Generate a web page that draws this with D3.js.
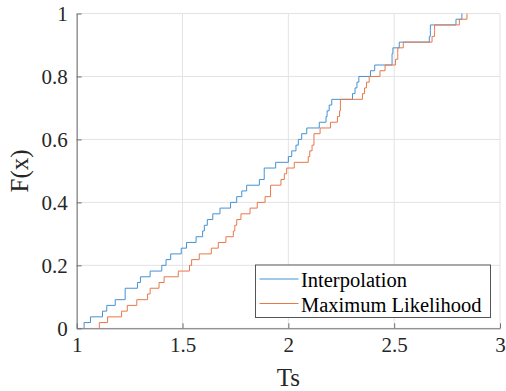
<!DOCTYPE html>
<html>
<head>
<meta charset="utf-8">
<script src="https://cdn.jsdelivr.net/npm/d3@7"></script>
<style>
  body { margin: 0; background: #fff; }
  svg { display: block; }
</style>
</head>
<body>
<div id="chart"></div>
<script>
// tick values
var xTicks = [1, 1.5, 2, 2.5, 3];
var yTicks = [0, 0.2, 0.4, 0.6, 0.8, 1];

// series names
var seriesNames = ["Interpolation", "Maximum Likelihood"];

// samples (repeated values = double steps)
var interpSamples = [1.035, 1.065, 1.122, 1.142, 1.182, 1.229, 1.229, 1.287, 1.301, 1.347,
  1.402, 1.422, 1.444, 1.494, 1.519, 1.564, 1.595, 1.603, 1.617, 1.643,
  1.677, 1.727, 1.756, 1.780, 1.803, 1.863, 1.886, 1.886, 1.940, 2.000,
  2.016, 2.036, 2.047, 2.063, 2.087, 2.146, 2.178, 2.183, 2.193, 2.205,
  2.303, 2.315, 2.324, 2.333, 2.388, 2.408, 2.490, 2.490, 2.494, 2.524,
  2.666, 2.671, 2.671, 2.792, 2.820];

var mleSamples = [1.107, 1.146, 1.212, 1.239, 1.284, 1.335, 1.347, 1.389, 1.413, 1.480,
  1.533, 1.543, 1.579, 1.636, 1.669, 1.705, 1.740, 1.747, 1.756, 1.776,
  1.819, 1.853, 1.890, 1.916, 1.916, 1.965, 1.981, 1.992, 2.028, 2.094,
  2.101, 2.112, 2.121, 2.121, 2.150, 2.199, 2.232, 2.242, 2.246, 2.246,
  2.350, 2.360, 2.369, 2.382, 2.433, 2.457, 2.506, 2.517, 2.517, 2.543,
  2.679, 2.691, 2.691, 2.808, 2.844];

var colors = ["#4592d3", "#e8784a"];
var font = "'Liberation Serif', 'Times New Roman', serif";

var width = 506, height = 391;
var margin = {top: 13.5, right: 6, bottom: 62.7, left: 76.7};
var w = width - margin.left - margin.right,
    h = height - margin.top - margin.bottom;

var svg = d3.select("#chart").append("svg")
    .attr("width", width)
    .attr("height", height);

var g = svg.append("g")
    .attr("transform", "translate(" + margin.left + "," + margin.top + ")");

var x = d3.scaleLinear().domain([1, 3]).range([0, w]);
var y = d3.scaleLinear().domain([0, 1]).range([h, 0]);

// grid
g.selectAll(".vgrid").data(xTicks).enter().append("line")
    .attr("x1", function(d) { return x(d); })
    .attr("x2", function(d) { return x(d); })
    .attr("y1", 0).attr("y2", h)
    .attr("stroke", "#e3e3e3").attr("stroke-width", 1);
g.selectAll(".hgrid").data(yTicks).enter().append("line")
    .attr("x1", 0).attr("x2", w)
    .attr("y1", function(d) { return y(d); })
    .attr("y2", function(d) { return y(d); })
    .attr("stroke", "#e3e3e3").attr("stroke-width", 1);

// ecdf staircase
function ecdf(samples) {
  var s = samples.slice().sort(d3.ascending);
  var n = s.length;
  var pts = [[s[0], 0]];
  s.forEach(function(v, i) { pts.push([v, (i + 1) / n]); });
  return pts;
}

var line = d3.line()
    .x(function(d) { return x(d[0]); })
    .y(function(d) { return y(d[1]); })
    .curve(d3.curveStepAfter);

[interpSamples, mleSamples].forEach(function(s, i) {
  g.append("path")
    .attr("d", line(ecdf(s)))
    .attr("fill", "none")
    .attr("stroke", colors[i])
    .attr("stroke-width", 1);
});

// axes (ticks point inward)
var xAxis = d3.axisBottom(x).tickValues(xTicks).tickSizeInner(-5).tickSizeOuter(0).tickPadding(9)
    .tickFormat(d3.format(""));
var yAxis = d3.axisLeft(y).tickValues(yTicks).tickSizeInner(-5).tickSizeOuter(0).tickPadding(9)
    .tickFormat(d3.format(""));

var gx = g.append("g").attr("transform", "translate(0," + h + ")").call(xAxis);
var gy = g.append("g").call(yAxis);

[gx, gy].forEach(function(a) {
  a.attr("font-family", null);
  a.select(".domain").attr("stroke", "#6e6e6e");
  a.selectAll(".tick line").attr("stroke", "#6e6e6e");
  a.selectAll("text")
    .style("font-family", font)
    .style("font-size", "21px")
    .attr("fill", "#262626");
});
gy.selectAll("text").attr("dy", "0.34em");

// axis labels
g.append("text")
    .attr("x", w / 2)
    .attr("y", h + 57.5)
    .attr("text-anchor", "middle")
    .attr("fill", "#262626")
    .style("font-family", font)
    .style("font-size", "25px")
    .text("Ts");

g.append("text")
    .attr("transform", "translate(" + (-48.5) + "," + (h / 2) + ") rotate(-90)")
    .attr("text-anchor", "middle")
    .attr("fill", "#262626")
    .style("font-family", font)
    .style("font-size", "25px")
    .text("F(x)");

// legend
var legend = g.append("g")
    .attr("transform", "translate(" + (255.5 - margin.left) + "," + (265 - margin.top) + ")");

legend.append("rect")
    .attr("x", 0).attr("y", 0)
    .attr("width", 235).attr("height", 52.5)
    .attr("fill", "#fff")
    .attr("stroke", "#555").attr("stroke-width", 1);

seriesNames.forEach(function(name, i) {
  var ly = 14 + i * 24.5;
  legend.append("line")
    .attr("x1", 4).attr("x2", 43)
    .attr("y1", ly).attr("y2", ly)
    .attr("stroke", colors[i]).attr("stroke-width", 1);
  legend.append("text")
    .attr("x", 45.5)
    .attr("y", ly + 8)
    .attr("fill", "#000")
    .style("font-family", font)
    .style("font-size", "20.5px")
    .text(name);
});
</script>
</body>
</html>
